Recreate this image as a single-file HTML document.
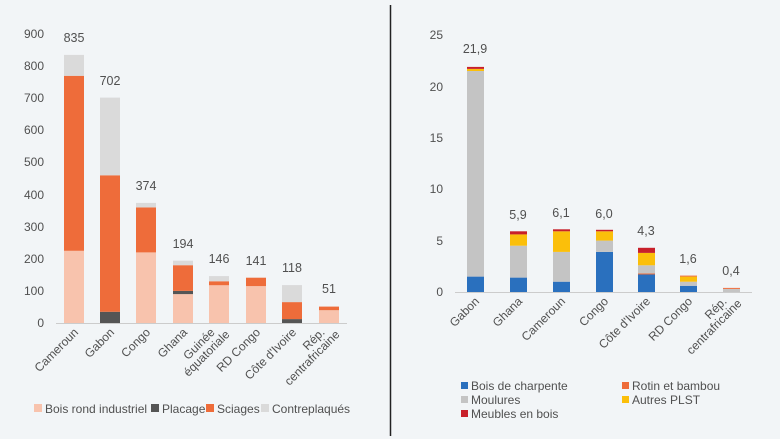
<!DOCTYPE html>
<html><head><meta charset="utf-8"><style>
html,body{margin:0;padding:0;background:#f2f5f7;}
svg{display:block;font-family:"Liberation Sans",sans-serif;}
text{fill:#505050;}
</style></head><body>
<svg width="780" height="439" viewBox="0 0 780 439">
<rect width="780" height="439" fill="#f2f5f7"/>
<line x1="390.5" y1="5" x2="390.5" y2="436" stroke="#222" stroke-width="1.5"/>
<!-- LEFT -->
<g font-size="12" text-anchor="end">
<text x="44" y="327">0</text><text x="44" y="295">100</text><text x="44" y="263">200</text>
<text x="44" y="231">300</text><text x="44" y="199">400</text><text x="44" y="166">500</text>
<text x="44" y="134">600</text><text x="44" y="102">700</text><text x="44" y="70">800</text><text x="44" y="38">900</text>
</g>
<line x1="56" y1="323.5" x2="347" y2="323.5" stroke="#ccc"/>
<g>
<rect x="64" y="250.8" width="20" height="72.2" fill="#f8c3ad"/><rect x="64" y="75.8" width="20" height="175" fill="#ee6c3a"/><rect x="64" y="54.9" width="20" height="20.9" fill="#dadada"/>
<rect x="100" y="311.8" width="20" height="11.2" fill="#555"/><rect x="100" y="175.3" width="20" height="136.5" fill="#ee6c3a"/><rect x="100" y="97.6" width="20" height="77.7" fill="#dadada"/>
<rect x="136" y="252.4" width="20" height="70.6" fill="#f8c3ad"/><rect x="136" y="207.4" width="20" height="45" fill="#ee6c3a"/><rect x="136" y="202.9" width="20" height="4.5" fill="#dadada"/>
<rect x="173" y="294.1" width="20" height="28.9" fill="#f8c3ad"/><rect x="173" y="290.9" width="20" height="3.2" fill="#555"/><rect x="173" y="265.2" width="20" height="25.7" fill="#ee6c3a"/><rect x="173" y="260.7" width="20" height="4.5" fill="#dadada"/>
<rect x="209" y="285.1" width="20" height="37.9" fill="#f8c3ad"/><rect x="209" y="281.3" width="20" height="3.9" fill="#ee6c3a"/><rect x="209" y="276.1" width="20" height="5.1" fill="#dadada"/>
<rect x="246" y="286.1" width="20" height="36.9" fill="#f8c3ad"/><rect x="246" y="277.7" width="20" height="8.4" fill="#ee6c3a"/>
<rect x="282" y="319.1" width="20" height="3.9" fill="#555"/><rect x="282" y="302.1" width="20" height="17" fill="#ee6c3a"/><rect x="282" y="285.1" width="20" height="17" fill="#dadada"/>
<rect x="319" y="310.2" width="20" height="12.8" fill="#f8c3ad"/><rect x="319" y="306.6" width="20" height="3.6" fill="#ee6c3a"/>
</g>
<g font-size="12.5" text-anchor="middle">
<text x="74" y="42">835</text><text x="110" y="85">702</text><text x="146" y="190">374</text><text x="183" y="248">194</text>
<text x="219" y="263">146</text><text x="256" y="265">141</text><text x="292" y="272">118</text><text x="329" y="293">51</text>
</g>
<g font-size="12" text-anchor="end">
<text transform="translate(79,333) rotate(-45)">Cameroun</text>
<text transform="translate(115,333) rotate(-45)">Gabon</text>
<text transform="translate(151,333) rotate(-45)">Congo</text>
<text transform="translate(188,333) rotate(-45)">Ghana</text>
<text transform="translate(224,333) rotate(-45)"><tspan x="-6" y="-6">Guinée</tspan><tspan x="3" y="6">équatoriale</tspan></text>
<text transform="translate(261,333) rotate(-45)">RD Congo</text>
<text transform="translate(297,333) rotate(-45)">Côte d'Ivoire</text>
<text transform="translate(334,333) rotate(-45)"><tspan x="-6" y="-6">Rép.</tspan><tspan x="3" y="6">centrafricaine</tspan></text>
</g>
<g font-size="12">
<rect x="34" y="404" width="8" height="8" fill="#f8c3ad"/><text x="45" y="413">Bois rond industriel</text>
<rect x="151" y="404" width="8" height="8" fill="#555"/><text x="162" y="413">Placage</text>
<rect x="206" y="404" width="8" height="8" fill="#ee6c3a"/><text x="217" y="413">Sciages</text>
<rect x="261" y="404" width="8" height="8" fill="#dadada"/><text x="272" y="413">Contreplaqués</text>
</g>
<!-- RIGHT -->
<g font-size="12" text-anchor="end">
<text x="443" y="296">0</text><text x="443" y="245">5</text><text x="443" y="193">10</text>
<text x="443" y="142">15</text><text x="443" y="91">20</text><text x="443" y="39">25</text>
</g>
<line x1="455" y1="292.5" x2="752" y2="292.5" stroke="#ccc"/>
<g>
<rect x="467" y="276.6" width="17" height="15.4" fill="#2a70be"/><rect x="467" y="71" width="17" height="205.6" fill="#c4c4c4"/><rect x="467" y="68.9" width="17" height="2.1" fill="#fbbf0a"/><rect x="467" y="66.9" width="17" height="2" fill="#c8202a"/>
<rect x="510" y="277.6" width="17" height="14.4" fill="#2a70be"/><rect x="510" y="245.7" width="17" height="31.9" fill="#c4c4c4"/><rect x="510" y="234.4" width="17" height="11.3" fill="#fbbf0a"/><rect x="510" y="231.3" width="17" height="3.1" fill="#c8202a"/>
<rect x="553" y="281.7" width="17" height="10.3" fill="#2a70be"/><rect x="553" y="251.9" width="17" height="29.8" fill="#c4c4c4"/><rect x="553" y="231.3" width="17" height="20.6" fill="#fbbf0a"/><rect x="553" y="229.3" width="17" height="2" fill="#c8202a"/>
<rect x="596" y="251.9" width="17" height="40.1" fill="#2a70be"/><rect x="596" y="240.6" width="17" height="11.3" fill="#c4c4c4"/><rect x="596" y="231.3" width="17" height="9.3" fill="#fbbf0a"/><rect x="596" y="229.8" width="17" height="1.5" fill="#c8202a"/>
<rect x="638" y="274.5" width="17" height="17.5" fill="#2a70be"/><rect x="638" y="273.5" width="17" height="1" fill="#ee6c3a"/><rect x="638" y="265.3" width="17" height="8.2" fill="#c4c4c4"/><rect x="638" y="252.9" width="17" height="12.4" fill="#fbbf0a"/><rect x="638" y="247.8" width="17" height="5.1" fill="#c8202a"/>
<rect x="680" y="285.8" width="17" height="6.2" fill="#2a70be"/><rect x="680" y="281.7" width="17" height="4.1" fill="#c4c4c4"/><rect x="680" y="276.6" width="17" height="5.1" fill="#fbbf0a"/><rect x="680" y="275.6" width="17" height="1" fill="#ee6c3a"/>
<rect x="723" y="288.9" width="17" height="3.1" fill="#c4c4c4"/><rect x="723" y="287.9" width="17" height="1" fill="#ee6c3a"/>
</g>
<g font-size="12.5" text-anchor="middle">
<text x="475" y="53">21,9</text><text x="518" y="219">5,9</text><text x="561" y="217">6,1</text><text x="604" y="218">6,0</text>
<text x="646" y="235">4,3</text><text x="688" y="263">1,6</text><text x="731" y="275">0,4</text>
</g>
<g font-size="12" text-anchor="end">
<text transform="translate(480,302) rotate(-45)">Gabon</text>
<text transform="translate(523,302) rotate(-45)">Ghana</text>
<text transform="translate(566,302) rotate(-45)">Cameroun</text>
<text transform="translate(609,302) rotate(-45)">Congo</text>
<text transform="translate(651,302) rotate(-45)">Côte d'Ivoire</text>
<text transform="translate(693,302) rotate(-45)">RD Congo</text>
<text transform="translate(736,302) rotate(-45)"><tspan x="-6" y="-6">Rép.</tspan><tspan x="3" y="6">centrafricaine</tspan></text>
</g>
<g font-size="12">
<rect x="461" y="382" width="7" height="7" fill="#2a70be"/><text x="471" y="390">Bois de charpente</text>
<rect x="461" y="396" width="7" height="7" fill="#c4c4c4"/><text x="471" y="404">Moulures</text>
<rect x="461" y="410" width="7" height="7" fill="#c8202a"/><text x="471" y="418">Meubles en bois</text>
<rect x="622" y="382" width="7" height="7" fill="#ee6c3a"/><text x="632" y="390">Rotin et bambou</text>
<rect x="622" y="396" width="7" height="7" fill="#fbbf0a"/><text x="632" y="404">Autres PLST</text>
</g>
</svg>
</body></html>
